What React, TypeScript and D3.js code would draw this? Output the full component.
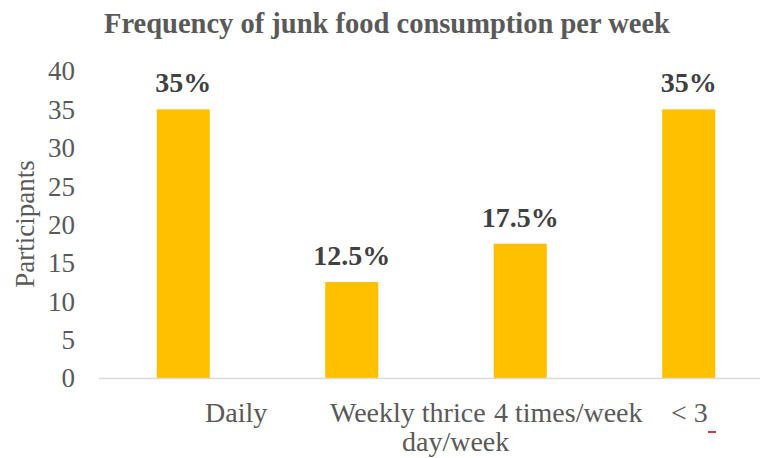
import * as d3 from "d3";

const CATEGORIES = ["Daily", "Weekly thrice", "4 times/week", "< 3 day/week"];
const PARTICIPANTS = [35, 12.5, 17.5, 35];
const VALUE_LABELS = ["35%", "12.5%", "17.5%", "35%"];
const Y_TICKS = [0, 5, 10, 15, 20, 25, 30, 35, 40];

const W = 760;
const H = 458;
const FONT = "'Liberation Serif', 'Times New Roman', serif";

const App = () => {
  const x = d3
    .scaleBand<string>()
    .domain(CATEGORIES)
    .range([99, 773])
    .paddingInner(0.685)
    .paddingOuter(0.3425);

  const y = d3.scaleLinear().domain([0, 40]).range([378, 71]);

  return (
    <svg
      width={W}
      height={H}
      style={{ position: "absolute", left: 0, top: 0, background: "#fff" }}
      fontFamily={FONT}
    >
      <text
        x={387}
        y={33}
        textAnchor="middle"
        fontSize={28.5}
        fontWeight="bold"
        fill="#595959"
      >
        Frequency of junk food consumption per week
      </text>

      {/* y axis */}
      {Y_TICKS.map((t) => (
        <text
          key={t}
          x={75}
          y={y(t)}
          dy="0.35em"
          textAnchor="end"
          fontSize={27}
          fill="#595959"
        >
          {t}
        </text>
      ))}
      <text
        transform={`translate(34, 224) rotate(-90)`}
        textAnchor="middle"
        fontSize={27}
        fill="#595959"
      >
        Participants
      </text>

      {/* bars */}
      {CATEGORIES.map((c, i) => (
        <rect
          key={c}
          x={x(c)}
          y={y(PARTICIPANTS[i])}
          width={x.bandwidth()}
          height={y(0) - y(PARTICIPANTS[i])}
          fill="#FFC000"
        />
      ))}
      <line x1={99} x2={W} y1={y(0) + 0.5} y2={y(0) + 0.5} stroke="#D9D9D9" strokeWidth={1.5} />

      {CATEGORIES.map((c, i) => (
        <text
          key={c}
          x={(x(c) ?? 0) + x.bandwidth() / 2}
          y={y(PARTICIPANTS[i]) - 17}
          textAnchor="middle"
          fontSize={28}
          fontWeight="bold"
          fill="#404040"
        >
          {VALUE_LABELS[i]}
        </text>
      ))}

      {/* category labels, laid out as one wrapped text run */}
      <g fontSize={28} fill="#595959">
        <text x={205} y={422}>{CATEGORIES[0]}</text>
        <text x={330} y={422}>{CATEGORIES[1]}</text>
        <text x={494} y={422}>{CATEGORIES[2]}</text>
        <text x={671} y={422}>{CATEGORIES[3].slice(0, 3)}</text>
        <text x={402} y={451}>{CATEGORIES[3].slice(4)}</text>
      </g>
      <line x1={708} x2={716} y1={432} y2={432} stroke="#C00000" strokeWidth={1.5} />
    </svg>
  );
};

export default App;
